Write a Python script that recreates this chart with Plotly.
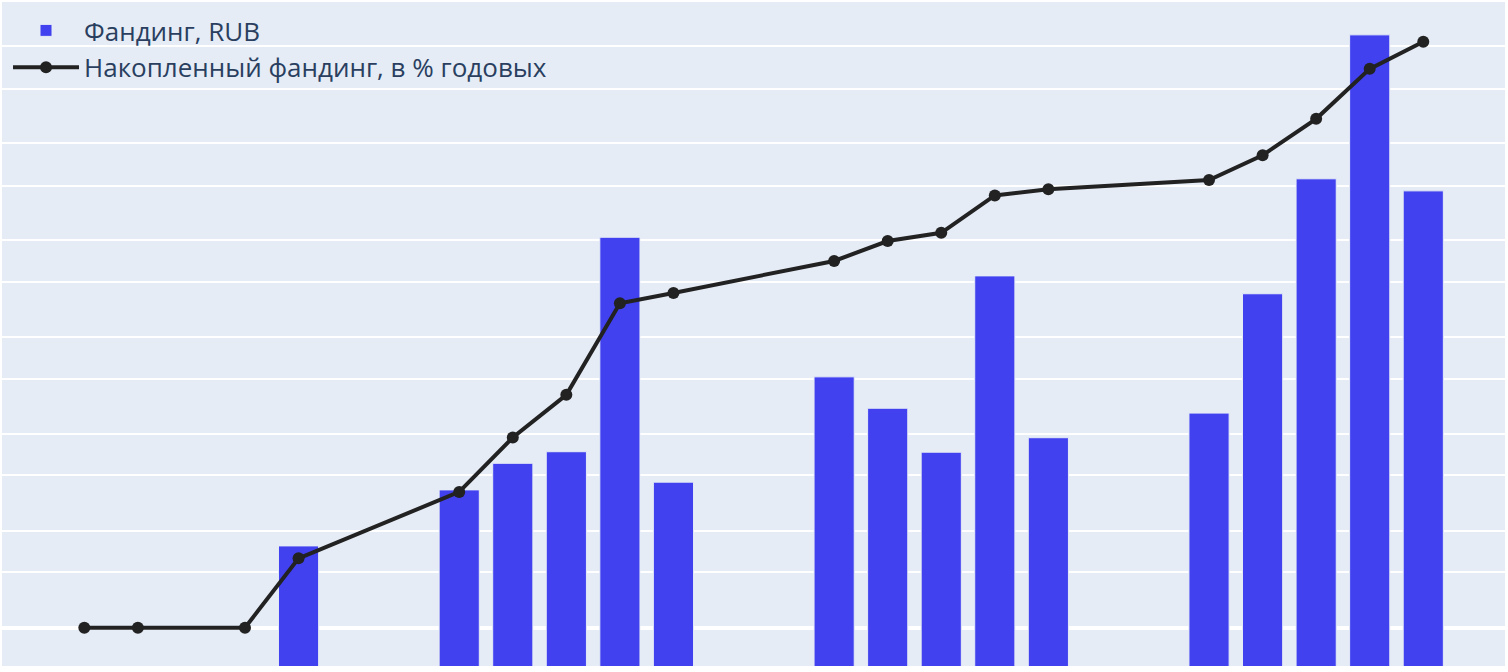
import pandas as pd
import plotly.graph_objects as go

# ---- data ----
start = pd.Timestamp("2024-06-03")
line_days = [0, 1, 3, 4, 7, 8, 9, 10, 11, 14, 15, 16, 17, 18, 21, 22, 23, 24, 25]
line_values = [0.0, 0.0, 0.0, 1.43, 2.80, 3.92, 4.80, 6.69, 6.90, 7.56, 7.97,
               8.14, 8.91, 9.04, 9.23, 9.74, 10.49, 11.52, 12.08]
bar_days = [4, 7, 8, 9, 10, 11, 14, 15, 16, 17, 18, 21, 22, 23, 24, 25]
bar_values = [0.254, 0.370, 0.425, 0.449, 0.893, 0.386, 0.604, 0.539, 0.448,
              0.813, 0.478, 0.529, 0.776, 1.014, 1.312, 0.989]

line_dates = [start + pd.Timedelta(days=d) for d in line_days]
bar_dates = [start + pd.Timedelta(days=d) for d in bar_days]

bar_name = "Фандинг, RUB"
line_name = "Накопленный фандинг, в % годовых"

fig = go.Figure()
fig.add_trace(go.Bar(
    x=bar_dates, y=bar_values, name=bar_name, yaxis="y",
    marker=dict(color="#4141F0", line=dict(color="#E5ECF6", width=1)),
    legendgroup="a",
))
fig.add_trace(go.Scatter(
    x=line_dates, y=line_values, name=line_name, yaxis="y2",
    mode="lines+markers",
    line=dict(color="#222222", width=4),
    marker=dict(color="#222222", size=12),
    legendgroup="b",
))

x0 = start + pd.Timedelta(days=-1.537)
x1 = start + pd.Timedelta(days=26.526)

fig.update_layout(
    template="plotly",
    width=1508, height=672,
    margin=dict(l=2, r=3, t=2, b=6),
    bargap=0.25,
    font=dict(family='"Open Sans", verdana, arial, sans-serif', size=26, color="#2a3f5f"),
    showlegend=True,
    legend=dict(x=0.004, y=0.9925, xanchor="left", yanchor="top", bgcolor="rgba(0,0,0,0)",
                itemwidth=66, tracegroupgap=0),
    xaxis=dict(type="date", range=[x0, x1], showgrid=False, showticklabels=False,
               zeroline=False),
    yaxis=dict(range=[0.0054, 1.380], dtick=0.2, showticklabels=False,
               gridcolor="white", gridwidth=2, zeroline=False),
    yaxis2=dict(range=[-0.789, 12.898], dtick=2, overlaying="y", side="right",
                showticklabels=False, gridcolor="white", gridwidth=2,
                zeroline=True, zerolinecolor="white", zerolinewidth=4),
)

fig.write_html("out.html", config={"displayModeBar": False},
               post_script="document.body.style.margin='0';")
